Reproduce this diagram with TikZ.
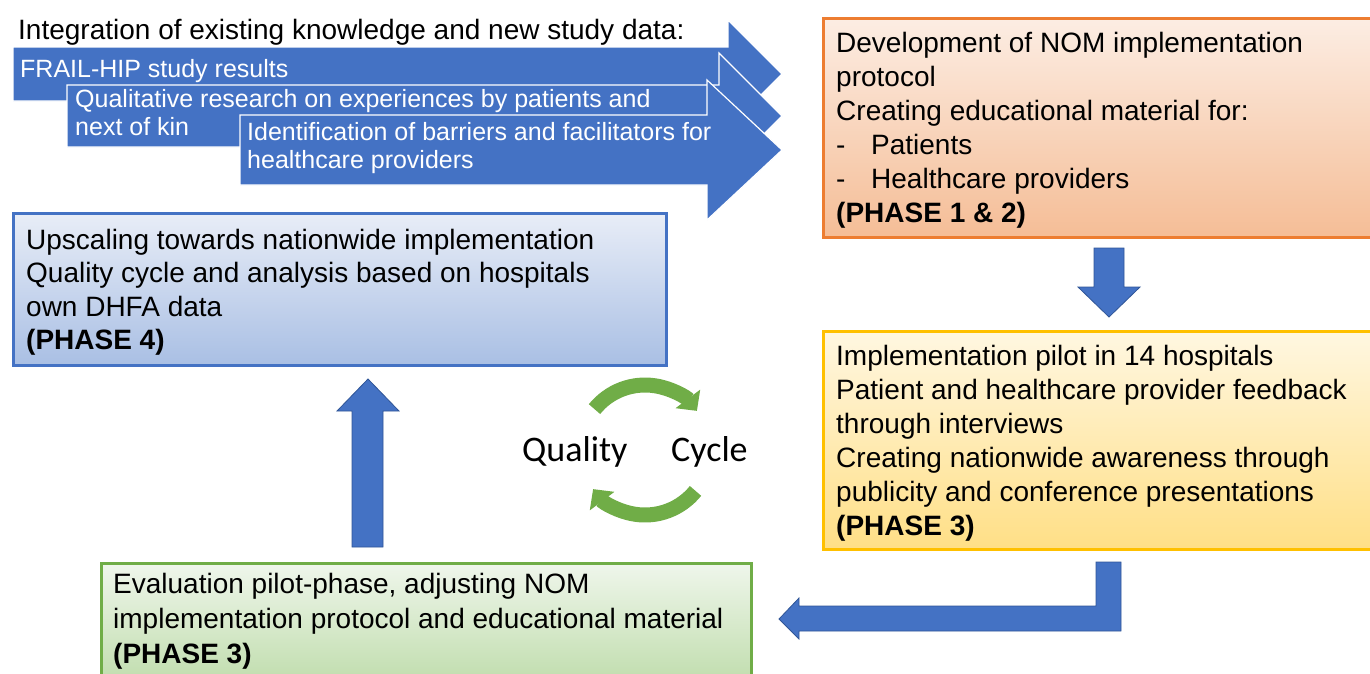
\documentclass[tikz,border=0pt]{standalone}
\usepackage{fontspec}
\setmainfont{Liberation Sans}
\newfontfamily\cyclefont{Carlito}
\usetikzlibrary{arrows.meta}

\definecolor{arrowblue}{HTML}{4472C4}
\definecolor{arrowedge}{HTML}{2F5597}
\definecolor{orangeedge}{HTML}{ED7D31}
\definecolor{orangetop}{HTML}{FCEDE3}
\definecolor{orangebot}{HTML}{F5BD96}
\definecolor{yellowedge}{HTML}{FFC000}
\definecolor{yellowtop}{HTML}{FFF7E1}
\definecolor{yellowbot}{HTML}{FFDF86}
\definecolor{blueedge}{HTML}{4472C4}
\definecolor{bluetop}{HTML}{E8EDF7}
\definecolor{bluebot}{HTML}{A9BFE4}
\definecolor{greenedge}{HTML}{70AD47}
\definecolor{greentop}{HTML}{EFF6EB}
\definecolor{greenbot}{HTML}{C0DDAD}
\definecolor{cyclegreen}{HTML}{70AD47}

\tikzset{
  body/.style={anchor=north west, inner sep=0pt, align=left,
    font=\fontsize{28}{34}\selectfont},
  band/.style={anchor=north west, inner sep=0pt, align=left, text=white,
    font=\fontsize{25}{28}\selectfont},
  phasebox/.style n args={3}{anchor=north west, draw=#1, line width=3pt,
    top color=#2, bottom color=#3, inner sep=0pt},
  bandarrow/.style={fill=arrowblue, draw=white, line width=1.2pt},
  blockarrow/.style={fill=arrowblue, draw=arrowedge, line width=0.8pt},
  cyclearc/.style={draw=cyclegreen, line width=15pt,
    -{Triangle[length=15pt,width=30pt]}},
  cyclelabel/.style={anchor=base west, inner sep=0pt,
    font=\cyclefont\fontsize{36}{40}\selectfont},
}
% strut that fixes the height of a text block's first line
\newcommand{\topstrut}[1]{\rule{0pt}{#1}}
\newcommand{\bulletdash}{\makebox[35pt][l]{-}}

\begin{document}
\begin{tikzpicture}[x=1pt, y=-1pt]
\useasboundingbox (0,0) rectangle (1370,673);
\clip (0,0) rectangle (1370,673);

% ---- phase boxes ----
\node[phasebox={orangeedge}{orangetop}{orangebot},
      minimum width=552pt, minimum height=219pt] (dev) at (822,17) {};
\node[phasebox={yellowedge}{yellowtop}{yellowbot},
      minimum width=552pt, minimum height=218pt] (pilot) at (822,330) {};
\node[phasebox={greenedge}{greentop}{greenbot},
      minimum width=650pt, minimum height=120pt] (eval) at (100,562) {};
\node[phasebox={blueedge}{bluetop}{bluebot},
      minimum width=653pt, minimum height=152pt] (scale) at (12,212) {};

% ---- box texts ----
\node[body] (devtext) at (836,28) {\topstrut{24pt}Development of NOM implementation\\
protocol\\
Creating educational material for:\\
\bulletdash Patients\\
\bulletdash Healthcare providers\\
\textbf{(PHASE 1 \& 2)}};

\node[body] (pilottext) at (836,341) {\topstrut{24pt}Implementation pilot in 14 hospitals\\
Patient and healthcare provider feedback\\
through interviews\\
Creating nationwide awareness through\\
publicity and conference presentations\\
\textbf{(PHASE 3)}};

\node[body, font=\fontsize{28}{35}\selectfont] (evaltext) at (113,569)
{\topstrut{24pt}Evaluation pilot-phase, adjusting NOM\\
implementation protocol and educational material\\
\textbf{(PHASE 3)}};

\node[body, font=\fontsize{28}{33.5}\selectfont] (scaletext) at (26,225)
{\topstrut{24pt}Upscaling towards nationwide implementation\\
Quality cycle and analysis based on hospitals\\
own DHFA data\\
\textbf{(PHASE 4)}};

% ---- input arrows ----
\node[anchor=base west, inner sep=0pt, font=\fontsize{28}{34}\selectfont]
  (title) at (18,39) {Integration of existing knowledge and new study data:};

\draw[bandarrow] (13,47) -- (728,47) -- (728,20) -- (782,74) -- (728,128)
  -- (728,101) -- (13,101) -- cycle;
\node[band] (frail) at (20,55) {\topstrut{22pt}FRAIL-HIP study results};

\draw[bandarrow] (67,85) -- (719,85) -- (719,53) -- (782,116) -- (719,179)
  -- (719,147) -- (67,147) -- cycle;
\node[band] (quali) at (75,85) {\topstrut{22pt}Qualitative research on experiences by patients and\\
next of kin};

\draw[bandarrow] (240,115) -- (707,115) -- (707,80) -- (782,150) -- (707,220)
  -- (707,185) -- (240,185) -- cycle;
\node[band] (barriers) at (247,118) {\topstrut{22pt}Identification of barriers and facilitators for\\
healthcare providers};

% ---- flow arrows between phases ----
\draw[blockarrow] (1094,248) -- (1124,248) -- (1124,287) -- (1140,287)
  -- (1109,317) -- (1078,287) -- (1094,287) -- cycle;
\draw[blockarrow] (1121,562) -- (1121,631) -- (799,631) -- (799,639)
  -- (779,619) -- (799,598) -- (799,606) -- (1096,606) -- (1096,562) -- cycle;
\draw[blockarrow] (352,547) -- (383,547) -- (383,411) -- (399,411)
  -- (368,379) -- (337,411) -- (352,411) -- cycle;

% ---- quality cycle ----
\coordinate (cyc) at (645,450);
\draw[cyclearc] ([shift={(141:65pt)}]cyc) arc[start angle=141, end angle=37, radius=65pt];
\draw[cyclearc] ([shift={(-39:65pt)}]cyc) arc[start angle=-39, end angle=-143, radius=65pt];
\node[cyclelabel] (quality) at (522,461) {Quality};
\node[cyclelabel] (cycle) at (671,461) {Cycle};
\end{tikzpicture}
\end{document}
